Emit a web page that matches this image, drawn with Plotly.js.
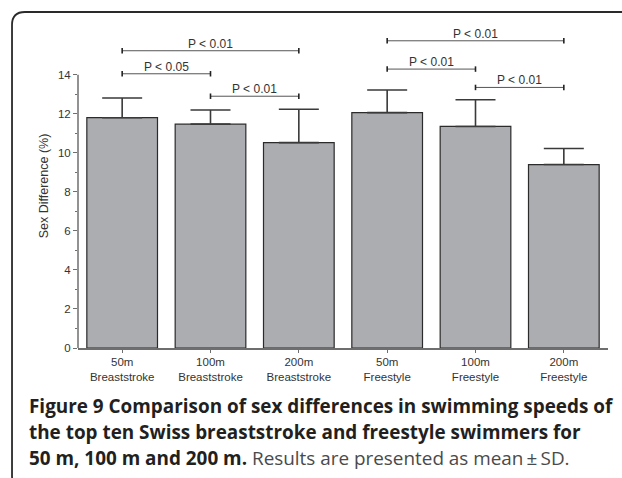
<!DOCTYPE html>
<html>
<head>
<meta charset="utf-8">
<script src="https://cdn.plot.ly/plotly-3.0.1.min.js"></script>
<style>
html,body{margin:0;padding:0;background:#fff;overflow:hidden;}
#chart{width:622px;height:478px;}
</style>
</head>
<body>
<div id="chart"></div>
<script>
// ---- data ----
var categories = ['50m<br>Breaststroke','100m<br>Breaststroke','200m<br>Breaststroke','50m<br>Freestyle','100m<br>Freestyle','200m<br>Freestyle'];
var meanDiff = [11.8, 11.47, 10.52, 12.06, 11.35, 9.4];
var sdDiff = [1.01, 0.72, 1.71, 1.16, 1.37, 0.82];
var yTicks = [0, 2, 4, 6, 8, 10, 12, 14];
var yMinorTicks = [1, 3, 5, 7, 9, 11, 13];
var bracketFrom = [0, 0, 1, 3, 3, 4];
var bracketTo = [2, 1, 2, 5, 4, 5];
var bracketY = [15.23, 14.05, 12.9, 15.74, 14.29, 13.35];
var bracketLabel = ['P < 0.01', 'P < 0.05', 'P < 0.01', 'P < 0.01', 'P < 0.01', 'P < 0.01'];
var captionLines = [
  '<b>Figure 9 Comparison of sex differences in swimming speeds of</b>',
  '<b>the top ten Swiss breaststroke and freestyle swimmers for</b>',
  '<b>50 m, 100 m and 200 m.</b> <span style="color:#4a4a4a">Results are presented as mean\u2009\u00b1\u2009SD.</span>'
];

var axFont = {family: 'Liberation Sans, Arial, sans-serif', size: 11.5, color: '#333'};

var trace = {
  type: 'bar',
  x: categories,
  y: meanDiff,
  marker: {color: '#ACADB1', line: {color: '#2b2b2b', width: 1.2}},
  error_y: {type: 'data', symmetric: false, array: sdDiff, arrayminus: sdDiff.map(function(){return 0;}),
            color: '#3a3a3a', thickness: 1.6, width: 20},
  hoverinfo: 'none'
};

var shapes = [];
var annotations = [];
// y axis line (only up to 14)
shapes.push({type:'line', xref:'paper', yref:'y', x0:0, x1:0, y0:yTicks[0], y1:yTicks[yTicks.length-1],
             line:{color:'#6e6e6e', width:1.5}});
for (var i = 0; i < bracketY.length; i++) {
  shapes.push({type:'line', xref:'x', yref:'y', x0:bracketFrom[i], x1:bracketTo[i], y0:bracketY[i], y1:bracketY[i],
               line:{color:'#555', width:1}});
  [bracketFrom[i], bracketTo[i]].forEach(function(xx){
    shapes.push({type:'line', xref:'x', yref:'y', x0:xx, x1:xx, y0:bracketY[i]-0.14, y1:bracketY[i]+0.14,
                 line:{color:'#222', width:1.6}});
  });
  annotations.push({xref:'x', yref:'y', x:(bracketFrom[i]+bracketTo[i])/2, y:bracketY[i],
                    text:bracketLabel[i], showarrow:false, yanchor:'bottom', yshift:-2,
                    font:{family:'Liberation Sans, Arial, sans-serif', size:12, color:'#333'}});
}
// frame with rounded left corners
shapes.push({type:'path', xref:'paper', yref:'paper', layer:'above',
  path:'M 1.2,1.037 L -0.1,1.037 Q -0.1245,1.037 -0.1245,0.997 L -0.1245,-0.395 Q -0.1245,-0.435 -0.1,-0.435 L 1.2,-0.435',
  line:{color:'#2a2a2a', width:1.8}});

var capY = [-0.18, -0.258, -0.338];
for (var j = 0; j < captionLines.length; j++) {
  annotations.push({xref:'paper', yref:'paper', x:-0.0962, y:capY[j], xanchor:'left', yanchor:'middle',
                    text:captionLines[j], showarrow:false, align:'left',
                    font:{family:'Open Sans, sans-serif', size:18.9, color:'#231f20'}});
}

var layout = {
  width: 622, height: 478,
  margin: {l: 78, r: 14, t: 24, b: 130},
  paper_bgcolor: '#fff', plot_bgcolor: '#fff',
  showlegend: false,
  bargap: 0.2,
  xaxis: {type:'category', range:[-0.5, 5.5], showline:true, linecolor:'#6e6e6e', linewidth:1.5,
          ticks:'outside', ticklen:3, tickcolor:'#6e6e6e', tickfont:axFont, showgrid:false, zeroline:false,
          fixedrange:true},
  yaxis: {range:[0, 16.6], tickvals:yTicks, ticks:'outside', ticklen:4, tickcolor:'#6e6e6e', tickwidth:1,
          minor:{tickvals:yMinorTicks, ticks:'outside', ticklen:2, tickcolor:'#6e6e6e'},
          showline:false, showgrid:false, zeroline:false, tickfont:axFont,
          title:{text:'Sex Difference (%)', font:{family:'Liberation Sans, Arial, sans-serif', size:12.5, color:'#333'}, standoff:6},
          fixedrange:true},
  shapes: shapes,
  annotations: annotations
};

Plotly.newPlot('chart', [trace], layout, {displayModeBar:false, staticPlot:true});
</script>
</body>
</html>
